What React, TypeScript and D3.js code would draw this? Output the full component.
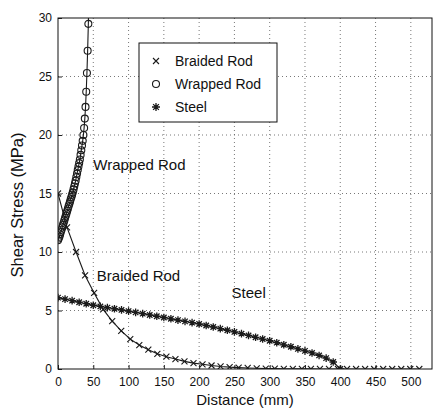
import { useEffect, useRef } from 'react';
import * as d3 from 'd3';

// Wrapped rod (circles)
const wrappedX = [0, 1, 2, 3, 4, 5, 6, 7, 8, 9, 10, 11, 12, 13, 14, 15, 16, 17, 18, 19, 20, 21, 22, 23, 24, 25, 26, 27, 28, 29, 30, 31, 32, 33, 34, 35, 36, 37, 38, 39, 40, 41, 42, 43, 43.6];
const wrappedY = [11.0, 11.15, 11.3, 11.5, 11.7, 11.9, 12.1, 12.3, 12.5, 12.7, 12.9, 13.1, 13.3, 13.5, 13.7, 13.9, 14.1, 14.3, 14.5, 14.7, 14.9, 15.1, 15.35, 15.6, 15.85, 16.1, 16.4, 16.7, 17.0, 17.3, 17.6, 17.9, 18.3, 18.7, 19.1, 19.5, 20.0, 20.6, 21.4, 22.4, 23.7, 25.3, 27.2, 29.5, 31.2];

// Braided rod (x markers)
const braidedX = [0, 12.8, 25.6, 38.4, 51.2, 64, 76.8, 89.6, 102.4, 115.2, 128, 140.8, 153.6, 166.4, 179.2, 192, 204.8, 217.6, 230.4, 243.2, 256, 268.8, 281.6, 294.4, 307.2, 320, 332.8, 345.6, 358.4, 371.2, 384, 396.8, 409.6, 422.4, 435.2, 448, 460.8, 473.6, 486.4, 499.2, 512];
const braidedY = [15.0, 12.1, 10.0, 8.0, 6.5, 5.1, 4.1, 3.25, 2.55, 2.05, 1.65, 1.3, 1.05, 0.85, 0.65, 0.5, 0.4, 0.3, 0.22, 0.16, 0.12, 0.09, 0.06, 0.04, 0.03, 0.02, 0.015, 0.01, 0.01, 0.005, 0.005, 0, 0, 0, 0, 0, 0, 0, 0, 0, 0];

// Steel (asterisks)
const steelX = [0, 10, 20, 30, 40, 50, 60, 70, 80, 90, 100, 110, 120, 130, 140, 150, 160, 170, 180, 190, 200, 210, 220, 230, 240, 250, 260, 270, 280, 290, 300, 310, 320, 330, 340, 350, 360, 370, 380, 390, 400];
const steelY = [6.1, 5.97, 5.84, 5.71, 5.58, 5.45, 5.35, 5.25, 5.15, 5.05, 4.95, 4.84, 4.73, 4.62, 4.51, 4.4, 4.29, 4.18, 4.07, 3.96, 3.85, 3.72, 3.59, 3.45, 3.31, 3.17, 3.02, 2.87, 2.71, 2.56, 2.42, 2.25, 2.07, 1.9, 1.72, 1.55, 1.37, 1.16, 0.93, 0.6, 0.0];

const xTicks = [0, 50, 100, 150, 200, 250, 300, 350, 400, 450, 500];
const yTicks = [0, 5, 10, 15, 20, 25, 30];

const legendLabels = ['Braided Rod', 'Wrapped Rod', 'Steel'];

const FONT = 'Liberation Sans, Arial, Helvetica, sans-serif';

export default function App() {
  const svgRef = useRef<SVGSVGElement>(null);

  useEffect(() => {
    if (!svgRef.current) return;
    const width = 439;
    const height = 412;
    const margin = { top: 18, right: 7, bottom: 43, left: 58 };
    const innerW = width - margin.left - margin.right;
    const innerH = height - margin.top - margin.bottom;

    const svg = d3.select(svgRef.current);
    svg.selectAll('*').remove();
    svg.attr('width', width).attr('height', height);

    svg.append('rect').attr('width', width).attr('height', height).attr('fill', '#fff');

    const g = svg.append('g').attr('transform', `translate(${margin.left},${margin.top})`);

    const x = d3.scaleLinear().domain([0, 530]).range([0, innerW]);
    const y = d3.scaleLinear().domain([0, 30]).range([innerH, 0]);

    svg
      .append('defs')
      .append('clipPath')
      .attr('id', 'plotclip')
      .append('rect')
      .attr('width', innerW)
      .attr('height', innerH);

    // Grid
    const grid = g.append('g').attr('stroke', '#555').attr('stroke-width', 0.8).attr('stroke-dasharray', '1,3');
    xTicks.slice(1).forEach((t) => {
      grid.append('line').attr('x1', x(t)).attr('x2', x(t)).attr('y1', 0).attr('y2', innerH);
    });
    yTicks.slice(1, -1).forEach((t) => {
      grid.append('line').attr('x1', 0).attr('x2', innerW).attr('y1', y(t)).attr('y2', y(t));
    });

    // Axes (ticks inward)
    const xAxis = g
      .append('g')
      .attr('transform', `translate(0,${innerH})`)
      .call(d3.axisBottom(x).tickValues(xTicks).tickSize(-4).tickPadding(8));
    const yAxis = g.append('g').call(d3.axisLeft(y).tickValues(yTicks).tickSize(-4).tickPadding(6));
    [xAxis, yAxis].forEach((a) => {
      a.select('.domain').remove();
      a.selectAll('line').attr('stroke', '#222');
      a.selectAll('text').style('font-family', FONT).style('font-size', '12px').attr('fill', '#111');
    });

    // Box
    g.append('rect')
      .attr('width', innerW)
      .attr('height', innerH)
      .attr('fill', 'none')
      .attr('stroke', '#111')
      .attr('stroke-width', 1);

    const plot = g.append('g').attr('clip-path', 'url(#plotclip)');
    const line = d3
      .line<[number, number]>()
      .x((d) => x(d[0]))
      .y((d) => y(d[1]));

    const wrapped = wrappedX.map((v, i) => [v, wrappedY[i]] as [number, number]);
    const braided = braidedX.map((v, i) => [v, braidedY[i]] as [number, number]);
    const steel = steelX.map((v, i) => [v, steelY[i]] as [number, number]);

    const stroke = '#1a1a1a';

    const drawX = (sel: any, cx: number, cy: number, s: number) => {
      sel.append('path')
        .attr('d', `M${cx - s},${cy - s}L${cx + s},${cy + s}M${cx - s},${cy + s}L${cx + s},${cy - s}`)
        .attr('stroke', stroke)
        .attr('stroke-width', 1.1)
        .attr('fill', 'none');
    };
    const drawStar = (sel: any, cx: number, cy: number, s: number) => {
      const d = 0.72 * s;
      sel.append('path')
        .attr(
          'd',
          `M${cx - s},${cy}L${cx + s},${cy}M${cx},${cy - s}L${cx},${cy + s}M${cx - d},${cy - d}L${cx + d},${cy + d}M${cx - d},${cy + d}L${cx + d},${cy - d}`,
        )
        .attr('stroke', stroke)
        .attr('stroke-width', 1.3)
        .attr('fill', 'none');
    };
    const drawO = (sel: any, cx: number, cy: number, r: number) => {
      sel.append('circle')
        .attr('cx', cx)
        .attr('cy', cy)
        .attr('r', r)
        .attr('fill', 'none')
        .attr('stroke', stroke)
        .attr('stroke-width', 1.1);
    };

    // Steel
    plot.append('path').datum(steel).attr('d', line).attr('fill', 'none').attr('stroke', stroke).attr('stroke-width', 1.1);
    steel.forEach((d) => drawStar(plot, x(d[0]), y(d[1]), 3.8));

    // Braided
    plot.append('path').datum(braided).attr('d', line).attr('fill', 'none').attr('stroke', stroke).attr('stroke-width', 1.1);
    braided.forEach((d) => drawX(plot, x(d[0]), y(d[1]), 3));

    // Wrapped
    plot.append('path').datum(wrapped).attr('d', line).attr('fill', 'none').attr('stroke', stroke).attr('stroke-width', 1.1);
    wrapped.forEach((d) => drawO(plot, x(d[0]), y(d[1]), 3.5));

    // Annotations
    const note = (tx: number, ty: number, label: string) => {
      g.append('text')
        .attr('x', x(tx))
        .attr('y', y(ty))
        .style('font-family', FONT)
        .style('font-size', '15px')
        .attr('fill', '#111')
        .text(label);
    };
    note(50, 17.0, 'Wrapped Rod');
    note(55, 7.55, 'Braided Rod');
    note(246, 6.05, 'Steel');

    // Legend
    const lg = svg.append('g').attr('transform', 'translate(139,43)');
    lg.append('rect').attr('width', 138).attr('height', 79).attr('fill', '#fff').attr('stroke', '#111').attr('stroke-width', 1);
    legendLabels.forEach((lab, i) => {
      const cy = 18 + i * 23;
      if (i === 0) drawX(lg, 17, cy, 3);
      if (i === 1) drawO(lg, 17, cy, 3.5);
      if (i === 2) drawStar(lg, 17, cy, 4);
      lg.append('text')
        .attr('x', 36)
        .attr('y', cy + 5)
        .style('font-family', FONT)
        .style('font-size', '14px')
        .attr('fill', '#111')
        .text(lab);
    });

    // Axis labels
    svg.append('text')
      .attr('x', 245)
      .attr('y', 405)
      .attr('text-anchor', 'middle')
      .style('font-family', FONT)
      .style('font-size', '15px')
      .attr('fill', '#111')
      .text('Distance (mm)');
    svg.append('text')
      .attr('transform', `translate(23,205) rotate(-90)`)
      .attr('text-anchor', 'middle')
      .style('font-family', FONT)
      .style('font-size', '16.5px')
      .attr('fill', '#111')
      .text('Shear Stress (MPa)');
  }, []);

  return (
    <div style={{ position: 'absolute', left: 0, top: 0 }}>
      <svg ref={svgRef} style={{ display: 'block' }} />
    </div>
  );
}
